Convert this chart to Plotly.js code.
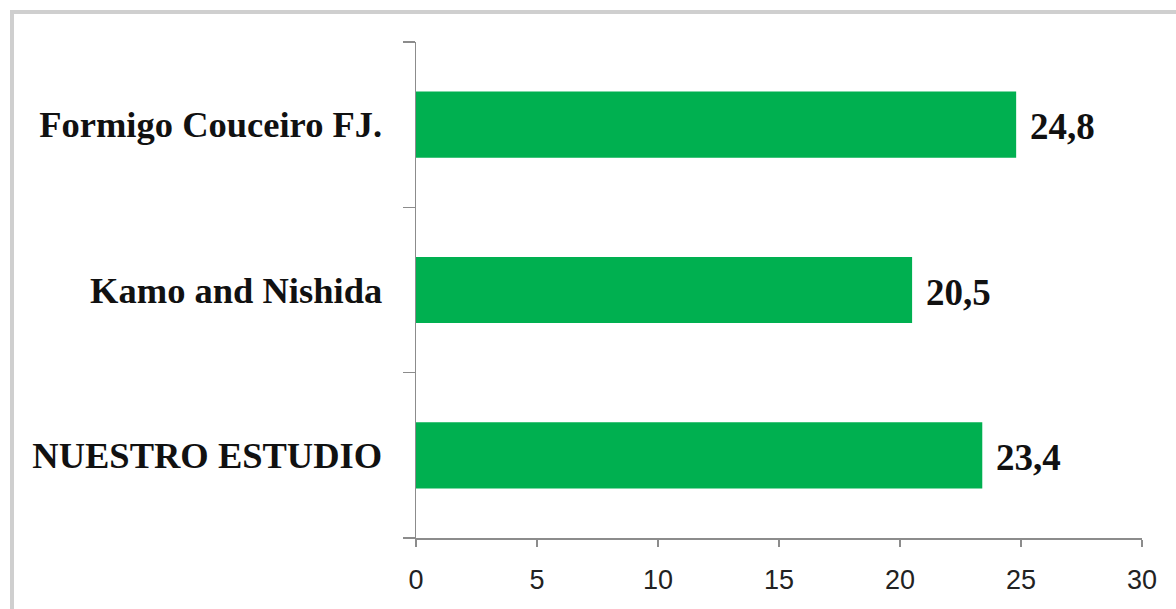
<!DOCTYPE html>
<html>
<head>
<meta charset="utf-8">
<script src="https://cdn.plot.ly/plotly-3.0.1.min.js"></script>
<style>
html,body{margin:0;padding:0;background:#fff;}
#wrap{position:relative;width:1176px;height:609px;overflow:hidden;}
#chart{width:1176px;height:609px;}
#frame{position:absolute;left:10px;top:10px;width:1200px;height:700px;border-left:4px solid #cfcfcf;border-top:4px solid #cfcfcf;pointer-events:none;}
</style>
</head>
<body>
<div id="wrap"><div id="chart"></div><div id="frame"></div></div>
<script>
const categories = ["NUESTRO ESTUDIO", "Kamo and Nishida", "Formigo Couceiro FJ."];
const values = [23.4, 20.5, 24.8];
const valueLabels = ["23,4", "20,5", "24,8"];
const xTicks = [0, 5, 10, 15, 20, 25, 30];

const trace = {
  type: "bar",
  orientation: "h",
  y: categories,
  x: values,
  width: 0.4,
  marker: {color: "#00B050"},
  hoverinfo: "none"
};

const annotations = categories.map((c, i) => ({
  x: values[i], y: c, xref: "x", yref: "y",
  text: valueLabels[i], showarrow: false,
  xanchor: "left", yanchor: "middle", xshift: 12, yshift: -2,
  font: {family: "Liberation Serif", size: 37, color: "#111", weight: "bold"}
}));

const layout = {
  width: 1176, height: 609,
  margin: {l: 416, r: 34, t: 42, b: 71},
  paper_bgcolor: "#fff", plot_bgcolor: "#fff",
  showlegend: false,
  bargap: 0.6,
  xaxis: {
    range: [0, 30], tickvals: xTicks, ticktext: xTicks.map(String),
    showgrid: false, zeroline: false, showline: true,
    linecolor: "#8c8c8c", linewidth: 1.5,
    ticks: "outside", ticklen: 7, tickcolor: "#8c8c8c", tickwidth: 1.5,
    ticklabelstandoff: 10,
    tickfont: {family: "Liberation Sans", size: 27, color: "#222"},
    fixedrange: true
  },
  yaxis: {
    type: "category", categoryorder: "array", categoryarray: categories,
    range: [-0.5, 2.5],
    showgrid: false, zeroline: false, showline: true,
    linecolor: "#8c8c8c", linewidth: 1.5,
    ticks: "outside", tickson: "boundaries", ticklen: 12, tickcolor: "#8c8c8c", tickwidth: 1.5,
    ticklabelstandoff: 25,
    tickfont: {family: "Liberation Serif", size: 36.5, color: "#111", weight: "bold"},
    fixedrange: true
  },
  annotations: annotations
};

Plotly.newPlot("chart", [trace], layout, {displayModeBar: false, staticPlot: true});
</script>
</body>
</html>
